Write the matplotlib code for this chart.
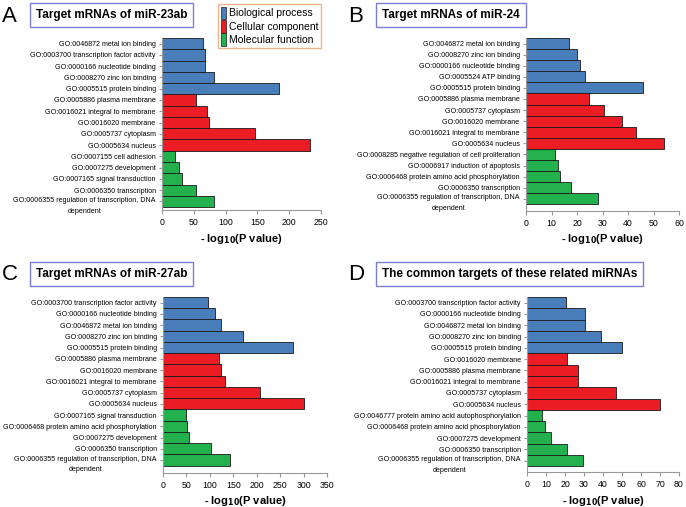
import matplotlib
matplotlib.use("Agg")
import matplotlib.pyplot as plt
from matplotlib.patches import Patch
from matplotlib.transforms import ScaledTranslation

plt.rcParams['font.family'] = ['Liberation Sans', 'DejaVu Sans']

# colours per GO category (5 terms each, top to bottom)
group_names = ['Biological process', 'Cellular component', 'Molecular function']
group_colors = ['#4a7ebb', '#ec1c24', '#22b14c']
group_sizes = [5, 5, 5]

# A: targets of miR-23ab
a_labels = [
    'GO:0046872 metal ion binding', 'GO:0003700 transcription factor activity',
    'GO:0000166 nucleotide binding', 'GO:0008270 zinc ion binding',
    'GO:0005515 protein binding',
    'GO:0005886 plasma membrane', 'GO:0016021 integral to membrane',
    'GO:0016020 membrane', 'GO:0005737 cytoplasm', 'GO:0005634 nucleus',
    'GO:0007155 cell adhesion', 'GO:0007275 development',
    'GO:0007165 signal transduction', 'GO:0006350 transcription',
    'GO:0006355 regulation of transcription, DNA\ndependent',
]
a_values = [65, 68, 68, 81, 184, 54, 71, 74, 146, 232, 20, 27, 32, 53, 82]

# B: targets of miR-24
b_labels = [
    'GO:0046872 metal ion binding', 'GO:0008270 zinc ion binding',
    'GO:0000166 nucleotide binding', 'GO:0005524 ATP binding',
    'GO:0005515 protein binding',
    'GO:0005886 plasma membrane', 'GO:0005737 cytoplasm',
    'GO:0016020 membrane', 'GO:0016021 integral to membrane',
    'GO:0005634 nucleus',
    'GO:0008285 negative regulation of cell proliferation',
    'GO:0006917 induction of apoptosis',
    'GO:0006468 protein amino acid phosphorylation',
    'GO:0006350 transcription',
    'GO:0006355 regulation of transcription, DNA\ndependent',
]
b_values = [17.0, 19.9, 21.0, 23.3, 46.0, 24.6, 30.4, 37.5, 43.0, 54.1,
            11.5, 12.4, 13.2, 17.7, 28.2]

# C: targets of miR-27ab
c_labels = [
    'GO:0003700 transcription factor activity', 'GO:0000166 nucleotide binding',
    'GO:0046872 metal ion binding', 'GO:0008270 zinc ion binding',
    'GO:0005515 protein binding',
    'GO:0005886 plasma membrane', 'GO:0016020 membrane',
    'GO:0016021 integral to membrane', 'GO:0005737 cytoplasm',
    'GO:0005634 nucleus',
    'GO:0007165 signal transduction',
    'GO:0006468 protein amino acid phosphorylation',
    'GO:0007275 development', 'GO:0006350 transcription',
    'GO:0006355 regulation of transcription, DNA\ndependent',
]
c_values = [97, 112, 123, 170, 277, 119, 123, 132, 206, 301, 49, 51, 56, 102, 143]

# D: common targets
d_labels = [
    'GO:0003700 transcription factor activity', 'GO:0000166 nucleotide binding',
    'GO:0046872 metal ion binding', 'GO:0008270 zinc ion binding',
    'GO:0005515 protein binding',
    'GO:0016020 membrane', 'GO:0005886 plasma membrane',
    'GO:0016021 integral to membrane', 'GO:0005737 cytoplasm',
    'GO:0005634 nucleus',
    'GO:0046777 protein amino acid autophosphorylation',
    'GO:0006468 protein amino acid phosphorylation',
    'GO:0007275 development', 'GO:0006350 transcription',
    'GO:0006355 regulation of transcription, DNA\ndependent',
]
d_values = [20.3, 30.5, 30.5, 39, 50, 21, 27, 27, 47, 70, 7.9, 9.4, 12.6, 21.3, 29.3]

panels = [
    # letter, title, labels, values, xmax, xstep, axes rect (px), ylim bottom
    ('A', 'Target mRNAs of miR-23ab', a_labels, a_values, 250, 50,
     (162, 38, 321, 210), 14.76),
    ('B', 'Target mRNAs of miR-24', b_labels, b_values, 60, 10,
     (526, 38, 679, 211), 15.1),
    ('C', 'Target mRNAs of miR-27ab', c_labels, c_values, 350, 50,
     (163, 297, 327, 473), 15.15),
    ('D', 'The common targets of these related miRNAs', d_labels, d_values, 80, 10,
     (527, 297, 679, 472), 15.0),
]

W, H = 686, 507
fig = plt.figure(figsize=(W / 100, H / 100), dpi=100)

colors = []
for c, n in zip(group_colors, group_sizes):
    colors += [c] * n

for letter, title, labels, values, xmax, xstep, (x0, y0, x1, y1), ybot in panels:
    ax = fig.add_axes([x0 / W, 1 - y1 / H, (x1 - x0) / W, (y1 - y0) / H])
    pos = list(range(len(values)))
    ax.barh(pos, values, height=1.0, color=colors, edgecolor='#1a1a1a', linewidth=0.6)
    ax.set_xlim(0, xmax)
    ax.set_ylim(ybot, -0.5)
    ax.set_xticks(range(0, xmax + 1, xstep))
    ax.set_yticks(pos)
    ax.set_yticklabels(labels, fontsize=5.1, multialignment='center', linespacing=1.75)
    for s in ['top', 'right']:
        ax.spines[s].set_visible(False)
    for s in ['left', 'bottom']:
        ax.spines[s].set_color('#999999')
        ax.spines[s].set_linewidth(0.8)
    ax.tick_params(axis='x', labelsize=6.3, length=3, color='#999999', pad=2.5)
    ax.tick_params(axis='y', length=2.5, color='#999999', pad=2)
    ax.set_xlabel(r'- log$_{\mathbf{10}}$(P value)', fontsize=8, fontweight='bold',
                  labelpad=3.5)
    last = ax.get_yticklabels()[-1]
    last.set_verticalalignment('top')
    last.set_transform(last.get_transform() + ScaledTranslation(0, 3.2 / 72, fig.dpi_scale_trans))

    lx = 2 if letter in 'AC' else 348
    fig.text(lx / W, 1 - (y0 - 22) / H, letter, fontsize=16, va='center', ha='left')
    tx = 36 if letter in 'AC' else 382
    fig.text(tx / W, 1 - (y0 - 23) / H, title, fontsize=8.5, fontweight='bold',
             va='center', ha='left',
             bbox=dict(boxstyle='square,pad=0.5', fc='white', ec='#7b7bd8', lw=1.0))

handles = [Patch(facecolor=c, edgecolor='#1a1a1a', linewidth=0.5) for c in group_colors]
fig.legend(handles, group_names, loc='upper left', bbox_to_anchor=(218 / W, 1 - 4 / H),
           fontsize=7.5, frameon=True, fancybox=False, edgecolor='#e8a070',
           handlelength=0.5, handleheight=1.5, handletextpad=0.3, borderpad=0.25,
           labelspacing=0.05, borderaxespad=0)

fig.savefig('out.png', dpi=100)
